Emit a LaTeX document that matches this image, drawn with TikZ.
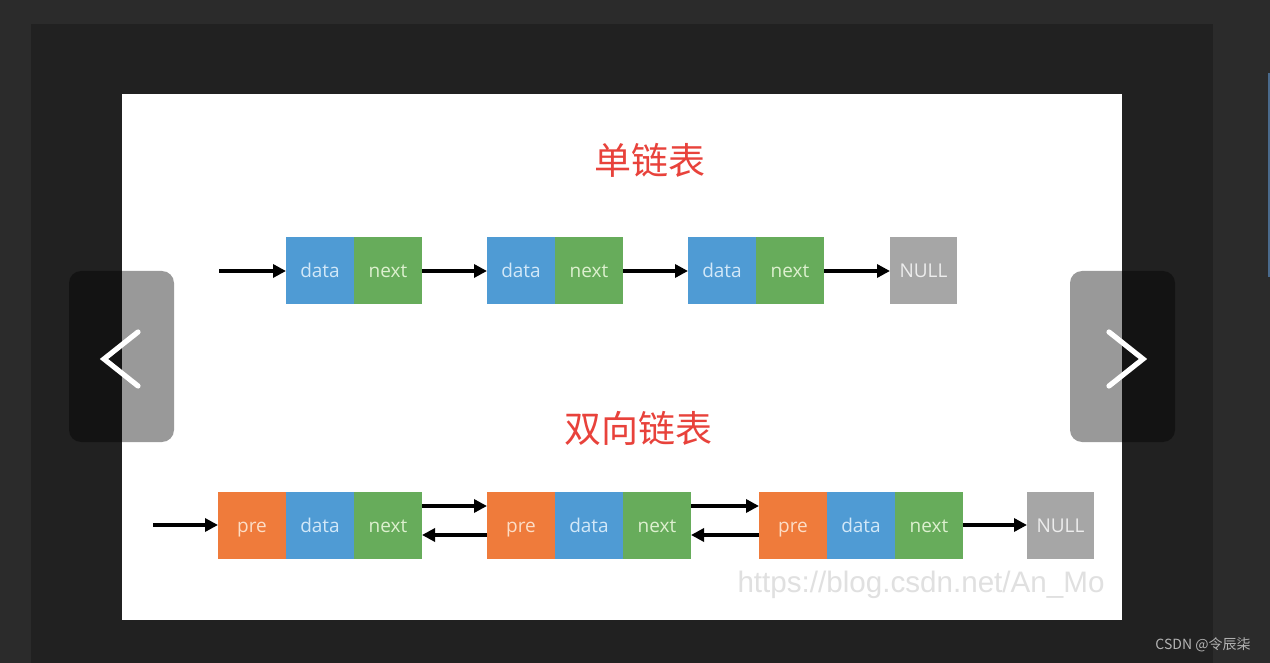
\documentclass[tikz,border=0pt]{standalone}
\usepackage{fontspec}
\setmainfont{Open Sans}
\newfontfamily\cjkfont{Noto Sans CJK SC}
\newfontfamily\markfont{Liberation Sans}
\usetikzlibrary{arrows.meta,positioning}
\definecolor{pagebg}{HTML}{2B2B2B}
\definecolor{panelbg}{HTML}{212121}
\definecolor{sliderline}{HTML}{4A6A8C}
\definecolor{celldata}{HTML}{4F9BD4}
\definecolor{cellnext}{HTML}{67AC5B}
\definecolor{cellpre}{HTML}{EF7B3B}
\definecolor{cellnull}{HTML}{A6A6A6}
\definecolor{textdata}{HTML}{D2E8F8}
\definecolor{textnext}{HTML}{DDF0CF}
\definecolor{textpre}{HTML}{FCDDC6}
\definecolor{textnull}{HTML}{EDEDED}
\definecolor{titlered}{HTML}{E8423B}
\definecolor{markgray}{HTML}{E0E0E0}
\definecolor{captiongray}{HTML}{B3B3B3}

\begin{document}
\begin{tikzpicture}[
  x=0.5pt, y=-0.5pt,
  cell/.style={minimum width=34pt, minimum height=33.5pt, inner sep=0pt, outer sep=0pt, text height=7pt, text depth=0pt, font=\fontsize{9.5}{11}\selectfont},
  datacell/.style={cell, fill=celldata, text=textdata},
  nextcell/.style={cell, fill=cellnext, text=textnext},
  precell/.style={cell, fill=cellpre, text=textpre},
  nullcell/.style={cell, minimum width=33.5pt, fill=cellnull, text=textnull},
  title/.style={text=titlered, font=\cjkfont\fontsize{18.5}{22}\selectfont},
  arrow/.style={-{Triangle[length=6.5pt,width=6.5pt]}, line width=1.7pt, draw=black},
  navbtn/.style={fill=black, fill opacity=0.4, rounded corners=6pt},
  chevron/.style={draw=white, line width=2.6pt, line cap=round}
]
% page and slider frame
\fill[pagebg] (0,0) rectangle (1270,663);
\fill[panelbg] (31,24) rectangle (1213,663);
\fill[sliderline] (1268,73) rectangle (1270,277);
\fill[white] (122,94) rectangle (1122,620);

% single linked list
\node[title] (singletitle) at (650,160) {单链表};
\coordinate (shead) at (219,271);
\node[datacell] (sdata1) at (320,271) {data};
\node[nextcell, right=0pt of sdata1] (snext1) {next};
\node[datacell, right=32.5pt of snext1] (sdata2) {data};
\node[nextcell, right=0pt of sdata2] (snext2) {next};
\node[datacell, right=32.5pt of snext2] (sdata3) {data};
\node[nextcell, right=0pt of sdata3] (snext3) {next};
\node[nullcell, right=33pt of snext3] (snull) {NULL};
\draw[arrow] (shead) -- (sdata1);
\draw[arrow] (snext1) -- (sdata2);
\draw[arrow] (snext2) -- (sdata3);
\draw[arrow] (snext3) -- (snull);

% double linked list
\node[title] (doubletitle) at (638,428) {双向链表};
\coordinate (dhead) at (153,525);
\node[precell] (dpre1) at (252,525) {pre};
\node[datacell, right=0pt of dpre1] (ddata1) {data};
\node[nextcell, right=0pt of ddata1] (dnext1) {next};
\node[precell, right=32.5pt of dnext1] (dpre2) {pre};
\node[datacell, right=0pt of dpre2] (ddata2) {data};
\node[nextcell, right=0pt of ddata2] (dnext2) {next};
\node[precell, right=34pt of dnext2] (dpre3) {pre};
\node[datacell, right=0pt of dpre3] (ddata3) {data};
\node[nextcell, right=0pt of ddata3] (dnext3) {next};
\node[nullcell, right=32pt of dnext3] (dnull) {NULL};
\draw[arrow] (dhead) -- (dpre1);
\draw[arrow] ([yshift=9.5pt]dnext1.east) -- ([yshift=9.5pt]dpre2.west);
\draw[arrow] ([yshift=-5pt]dpre2.west) -- ([yshift=-5pt]dnext1.east);
\draw[arrow] ([yshift=9.5pt]dnext2.east) -- ([yshift=9.5pt]dpre3.west);
\draw[arrow] ([yshift=-5pt]dpre3.west) -- ([yshift=-5pt]dnext2.east);
\draw[arrow] (dnext3) -- (dnull);

% watermark and caption
\node[text=markgray, font=\markfont\fontsize{14.8}{18}\selectfont] (mark) at (921,585) {https://blog.csdn.net/An\_Mo};
\node[text=captiongray, font=\cjkfont\fontsize{7}{8}\selectfont] (caption) at (1203,645) {CSDN @令辰柒};

% slider buttons
\fill[navbtn] (69,271) rectangle (174,442);
\fill[navbtn] (1070,271) rectangle (1175,442);
\draw[chevron] (138,332) -- (104,359) -- (138,386);
\draw[chevron] (1109,332) -- (1143,359) -- (1109,386);
\end{tikzpicture}
\end{document}
